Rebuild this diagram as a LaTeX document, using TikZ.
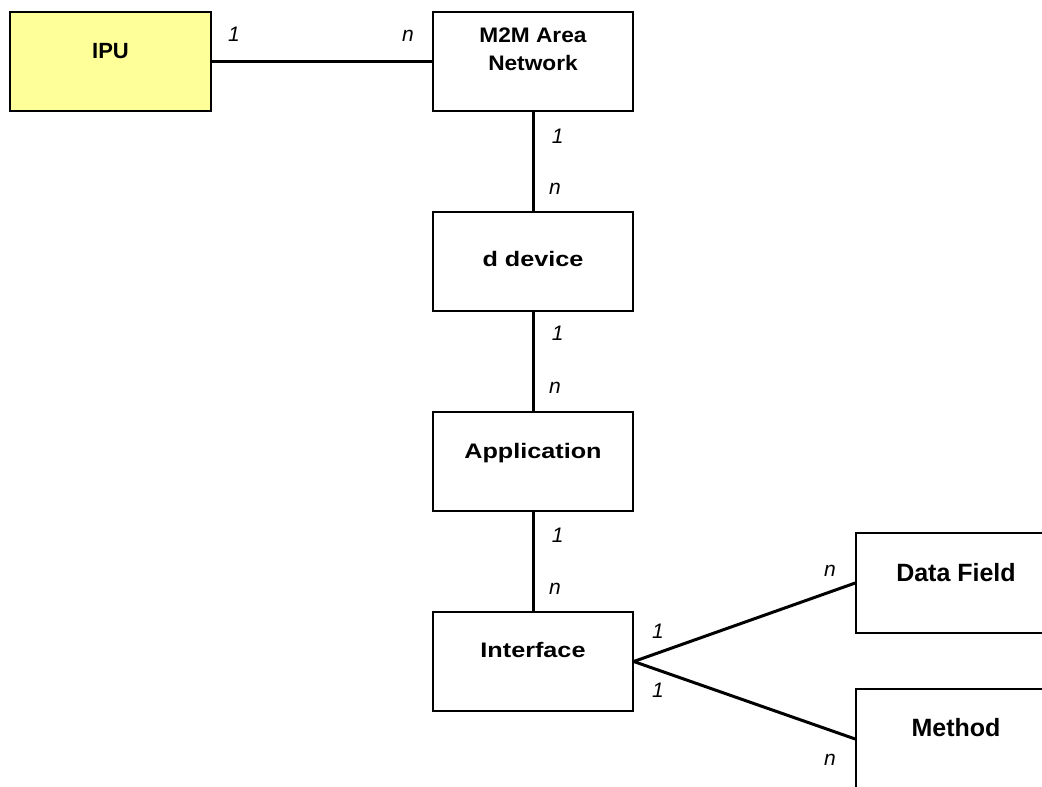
\documentclass[tikz,border=0pt]{standalone}
\usepackage{fontspec}
\setmainfont{Liberation Sans}
\newfontfamily\widefont[FakeStretch=1.2]{Liberation Sans}
\newfontfamily\midfont[FakeStretch=1.08]{Liberation Sans}
\definecolor{ipuyellow}{RGB}{255,255,153}
\tikzset{
  box/.style={draw=black, line width=1.5pt, rectangle, minimum width=200pt, minimum height=99pt, inner sep=0pt},
  conn/.style={draw=black, line width=3pt},
  boxtext/.style={anchor=base, inner sep=0pt, font=\fontsize{21}{25}\selectfont\bfseries},
  widetext/.style={anchor=base, inner sep=0pt, font=\widefont\fontsize{21}{25}\selectfont\bfseries},
  midtext/.style={anchor=base, inner sep=0pt, font=\midfont\fontsize{21}{25}\selectfont\bfseries},
  bigtext/.style={anchor=base, inner sep=0pt, font=\fontsize{25}{30}\selectfont\bfseries},
  mult/.style={anchor=base west, inner sep=0pt, font=\fontsize{21}{25}\selectfont\itshape}
}
\begin{document}
\begin{tikzpicture}[x=1pt,y=-1pt]
\useasboundingbox (0,0) rectangle (1042,787);
% boxes
\node[box, fill=ipuyellow, minimum width=201pt] (ipu) at (110.5,61.5) {};
\node[box] (m2m) at (533,61.5) {};
\node[box] (ddev) at (533,261.5) {};
\node[box] (app) at (533,461.5) {};
\node[box] (intf) at (533,661.5) {};
\node[box, minimum width=244pt, minimum height=100pt] (data) at (978,583) {};
\node[box, minimum width=244pt, minimum height=100pt] (meth) at (978,739) {};
% texts
\node[boxtext, font=\fontsize{22}{26}\selectfont\bfseries] (tipu) at (110.5,58.5) {IPU};
\node[midtext] (tm2ma) at (533,42.5) {M2M Area};
\node[midtext] (tm2mb) at (533,70.5) {Network};
\node[widetext] (tddev) at (533,266.7) {d device};
\node[widetext] (tapp) at (533,458.3) {Application};
\node[widetext] (tintf) at (533,657.3) {Interface};
\node[bigtext] (tdata) at (956,581.7) {Data Field};
\node[bigtext] (tmeth) at (956,736) {Method};
% connectors
\draw[conn] (ipu.east) -- (m2m.west);
\draw[conn] (m2m.south) -- (ddev.north);
\draw[conn] (ddev.south) -- (app.north);
\draw[conn] (app.south) -- (intf.north);
\draw[conn] (intf.east) -- (data.west);
\draw[conn] (intf.east) -- (meth.west);
% multiplicities
\node[mult] (m1) at (228,41.7) {1};
\node[mult] (m2) at (402,41.7) {n};
\node[mult] (m3) at (551.7,143.3) {1};
\node[mult] (m4) at (549,194) {n};
\node[mult] (m5) at (551.7,340.7) {1};
\node[mult] (m6) at (549,393) {n};
\node[mult] (m7) at (551.7,542) {1};
\node[mult] (m8) at (549,594) {n};
\node[mult] (m9) at (652,638) {1};
\node[mult] (m10) at (652,697) {1};
\node[mult] (m11) at (824,576) {n};
\node[mult] (m12) at (824,765) {n};
\end{tikzpicture}
\end{document}
